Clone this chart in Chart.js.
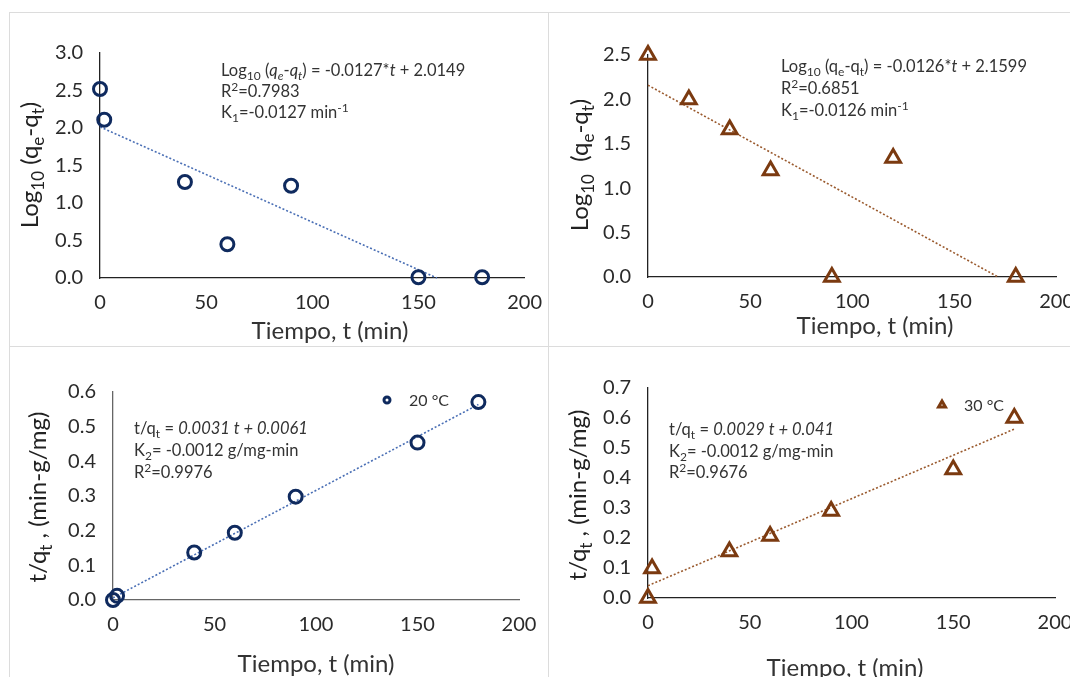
<!DOCTYPE html>
<html>
<head>
<meta charset="utf-8">
<script src="https://cdn.jsdelivr.net/npm/chart.js@4.4.0/dist/chart.umd.min.js"></script>
<style>
  html, body { margin: 0; padding: 0; background: #fff; }
  body { width: 1070px; height: 677px; overflow: hidden; position: relative; }
  .box { position: absolute; border: 1px solid #dcdcdc; box-sizing: border-box; }
  canvas { position: absolute; }
</style>
</head>
<body>
<div class="box" style="left:9px;top:12px;width:540px;height:335px"></div>
<div class="box" style="left:548px;top:12px;width:540px;height:335px"></div>
<div class="box" style="left:9px;top:346px;width:540px;height:340px"></div>
<div class="box" style="left:548px;top:346px;width:540px;height:340px"></div>
<canvas id="c1" width="537" height="332" style="left:10px;top:13px"></canvas>
<canvas id="c2" width="530" height="332" style="left:549px;top:13px"></canvas>
<canvas id="c3" width="537" height="330" style="left:10px;top:347px"></canvas>
<canvas id="c4" width="530" height="330" style="left:549px;top:347px"></canvas>
<script>
// --- data ---
const tiempo1 = [0, 2, 40, 60, 90, 150, 180];
const logQ1 = [2.52, 2.11, 1.28, 0.45, 1.23, 0.01, 0.01];
const trend1X = [0, 158.7];
const trend1Y = [2.0149, 0];

const tiempo2 = [0, 20, 40, 60, 90, 120, 180];
const logQ2 = [2.5, 2.0, 1.66, 1.2, 0.0, 1.34, 0.0];
const trend2X = [0, 171.4];
const trend2Y = [2.1599, 0];

const tiempo3 = [0, 2, 40, 60, 90, 150, 180];
const tq3 = [0.0, 0.012, 0.137, 0.194, 0.298, 0.454, 0.571];
const trend3X = [0, 180];
const trend3Y = [0.0061, 0.5641];

const tiempo4 = [0, 2, 40, 60, 90, 150, 180];
const tq4 = [0.0, 0.098, 0.155, 0.207, 0.29, 0.428, 0.6];
const trend4X = [0, 180];
const trend4Y = [0.041, 0.563];

const xTicks = [0, 50, 100, 150, 200];

const NAVY = "#0f2a5e";
const BLUE_TREND = "#4a6fb5";
const BROWN = "#7b3a10";
const BROWN_TREND = "#9a5a2e";
const FONT = "Lato";

const toPts = (xs, ys) => xs.map((x, i) => ({ x: x, y: ys[i] }));

// draw text made of runs (subscript / superscript / italic)
function drawRich(ctx, segs, x, y, size, align, color) {
  const fontFor = (s) => (s.i ? "italic " : "") + (s.s ? Math.round(size * 0.72) : size) + "px " + FONT;
  let total = 0;
  const widths = segs.map((s) => {
    ctx.font = fontFor(s);
    const w = ctx.measureText(s.t).width;
    total += w;
    return w;
  });
  let cx = align === "center" ? x - total / 2 : x;
  ctx.fillStyle = color;
  ctx.textBaseline = "alphabetic";
  ctx.textAlign = "left";
  const base = y + size * 0.35;
  segs.forEach((s, i) => {
    ctx.font = fontFor(s);
    let dy = 0;
    if (s.s === "sub") dy = size * 0.25;
    if (s.s === "sup") dy = -size * 0.36;
    ctx.fillText(s.t, cx, base + dy);
    cx += widths[i];
  });
}

const richText = {
  id: "richText",
  afterDraw(chart, args, opts) {
    const ctx = chart.ctx;
    ctx.save();
    (opts.items || []).forEach((it) => {
      ctx.save();
      if (it.rotate) {
        ctx.translate(it.x, it.y);
        ctx.rotate(-Math.PI / 2);
        drawRich(ctx, it.segs, 0, 0, it.size, it.align, it.color || "#222");
      } else {
        drawRich(ctx, it.segs, it.x, it.y, it.size, it.align, it.color || "#333");
      }
      ctx.restore();
    });
    if (opts.legend) {
      const lg = opts.legend;
      ctx.strokeStyle = lg.color;
      ctx.fillStyle = "#fff";
      ctx.lineWidth = lg.borderWidth;
      Chart.helpers.drawPoint(ctx, { pointStyle: lg.style, radius: lg.radius, borderWidth: lg.borderWidth, rotation: 0 }, lg.x, lg.y);
      drawRich(ctx, [{ t: lg.text }], lg.x + 22, lg.y, 16, "left", "#333");
    }
    ctx.restore();
  }
};

function makeChart(id, o) {
  return new Chart(document.getElementById(id), {
    type: "scatter",
    data: {
      datasets: [
        {
          data: toPts(o.xs, o.ys),
          pointStyle: o.style,
          pointRadius: o.radius,
          pointBorderWidth: 3,
          pointBorderColor: o.color,
          pointBackgroundColor: "rgba(255,255,255,0)",
          clip: false,
          order: 1
        },
        {
          data: toPts(o.tx, o.ty),
          showLine: true,
          pointRadius: 0,
          borderColor: o.trendColor,
          borderWidth: 1.6,
          borderDash: [2, 2],
          clip: false,
          order: 2
        }
      ]
    },
    options: {
      responsive: false,
      animation: false,
      events: [],
      layout: { padding: { left: 0, right: o.padRight, top: o.padTop, bottom: 0 } },
      scales: {
        x: {
          type: "linear",
          min: 0,
          max: 200,
          afterBuildTicks: (scale) => { scale.ticks = xTicks.map((v) => ({ value: v })); },
          afterFit: (scale) => { scale.height = o.xH; },
          grid: { display: false },
          border: { display: true, color: o.axisColor, width: 1.3 },
          ticks: { color: "#2a2a2a", font: { family: FONT, size: 20 }, padding: 5, maxRotation: 0 }
        },
        y: {
          type: "linear",
          min: 0,
          max: o.yMax,
          afterFit: (scale) => { scale.width = o.yW; },
          grid: { display: false },
          border: { display: true, color: o.axisColor, width: 1.3 },
          ticks: {
            stepSize: o.yStep,
            color: "#2a2a2a",
            font: { family: FONT, size: 20 },
            padding: 9,
            callback: (v) => Number(v).toFixed(1)
          }
        }
      },
      plugins: {
        legend: { display: false },
        tooltip: { enabled: false },
        richText: { items: o.texts, legend: o.legend }
      }
    },
    plugins: [richText]
  });
}

const xTitle = [{ t: "Tiempo, t (min)" }];
const logTitle = [{ t: "Log" }, { t: "10", s: "sub" }, { t: " (q" }, { t: "e", s: "sub" }, { t: "-q" }, { t: "t", s: "sub" }, { t: ")" }];
const logTitle2 = [{ t: "Log" }, { t: "10", s: "sub" }, { t: "  (q" }, { t: "e", s: "sub" }, { t: "-q" }, { t: "t", s: "sub" }, { t: ")" }];
const tqTitle = [{ t: "t/q" }, { t: "t", s: "sub" }, { t: " , (min-g/mg)" }];

const AS = 16.5; // annotation size
const TS = 24; // axis title size

makeChart("c1", {
  xs: tiempo1, ys: logQ1, tx: trend1X, ty: trend1Y,
  style: "circle", radius: 6.5, color: NAVY, trendColor: BLUE_TREND, axisColor: "#222",
  yMax: 3, yStep: 0.5, yW: 90, xH: 67, padTop: 40, padRight: 22,
  texts: [
    { x: 211, y: 57, size: AS, segs: [{ t: "Log" }, { t: "10", s: "sub" }, { t: " (" }, { t: "q", i: 1 }, { t: "e", s: "sub", i: 1 }, { t: "-" }, { t: "q", i: 1 }, { t: "t", s: "sub", i: 1 }, { t: ") = -0.0127*" }, { t: "t", i: 1 }, { t: " + 2.0149" }] },
    { x: 211, y: 78, size: AS, segs: [{ t: "R" }, { t: "2", s: "sup" }, { t: "=0.7983" }] },
    { x: 211, y: 99, size: AS, segs: [{ t: "K" }, { t: "1", s: "sub" }, { t: "=-0.0127 min" }, { t: "-1", s: "sup" }] },
    { x: 20, y: 152, size: TS, rotate: true, align: "center", segs: logTitle },
    { x: 320, y: 318, size: TS, align: "center", segs: xTitle }
  ]
});

makeChart("c2", {
  xs: tiempo2, ys: logQ2, tx: trend2X, ty: trend2Y,
  style: "triangle", radius: 8.5, color: BROWN, trendColor: BROWN_TREND, axisColor: "#222",
  yMax: 2.5, yStep: 0.5, yW: 99, xH: 68, padTop: 42, padRight: 19,
  texts: [
    { x: 232, y: 53, size: AS, segs: [{ t: "Log" }, { t: "10", s: "sub" }, { t: " (q" }, { t: "e", s: "sub" }, { t: "-q" }, { t: "t", s: "sub" }, { t: ") = -0.0126*" }, { t: "t", i: 1 }, { t: " + 2.1599" }] },
    { x: 232, y: 75, size: AS, segs: [{ t: "R" }, { t: "2", s: "sup" }, { t: "=0.6851" }] },
    { x: 232, y: 97, size: AS, segs: [{ t: "K" }, { t: "1", s: "sub" }, { t: "=-0.0126 min" }, { t: "-1", s: "sup" }] },
    { x: 31, y: 152, size: TS, rotate: true, align: "center", segs: logTitle2 },
    { x: 326, y: 313, size: TS, align: "center", segs: xTitle }
  ]
});

makeChart("c3", {
  xs: tiempo3, ys: tq3, tx: trend3X, ty: trend3Y,
  style: "circle", radius: 6.5, color: NAVY, trendColor: BLUE_TREND, axisColor: "#666",
  yMax: 0.6, yStep: 0.1, yW: 103, xH: 77, padTop: 45, padRight: 28,
  texts: [
    { x: 124, y: 81, size: AS, segs: [{ t: "t/q" }, { t: "t", s: "sub" }, { t: " = " }, { t: "0.0031 t + 0.0061", i: 1 }] },
    { x: 124, y: 103, size: AS, segs: [{ t: "K" }, { t: "2", s: "sub" }, { t: "= -0.0012 g/mg-min" }] },
    { x: 124, y: 125, size: AS, segs: [{ t: "R" }, { t: "2", s: "sup" }, { t: "=0.9976" }] },
    { x: 28, y: 150, size: TS, rotate: true, align: "center", segs: tqTitle },
    { x: 306, y: 317, size: TS, align: "center", segs: xTitle }
  ],
  legend: { x: 377, y: 53, style: "circle", radius: 3, borderWidth: 3, color: NAVY, text: "20 °C" }
});

makeChart("c4", {
  xs: tiempo4, ys: tq4, tx: trend4X, ty: trend4Y,
  style: "triangle", radius: 8.5, color: BROWN, trendColor: BROWN_TREND, axisColor: "#222",
  yMax: 0.7, yStep: 0.1, yW: 99, xH: 79, padTop: 41, padRight: 24,
  texts: [
    { x: 120, y: 82, size: AS, segs: [{ t: "t/q" }, { t: "t", s: "sub" }, { t: " = " }, { t: "0.0029 t + 0.041", i: 1 }] },
    { x: 120, y: 104, size: AS, segs: [{ t: "K" }, { t: "2", s: "sub" }, { t: "= -0.0012 g/mg-min" }] },
    { x: 120, y: 125, size: AS, segs: [{ t: "R" }, { t: "2", s: "sup" }, { t: "=0.9676" }] },
    { x: 29, y: 148, size: TS, rotate: true, align: "center", segs: tqTitle },
    { x: 296, y: 321, size: TS, align: "center", segs: xTitle }
  ],
  legend: { x: 393, y: 58, style: "triangle", radius: 4, borderWidth: 3, color: BROWN, text: "30 °C" }
});
</script>
</body>
</html>
